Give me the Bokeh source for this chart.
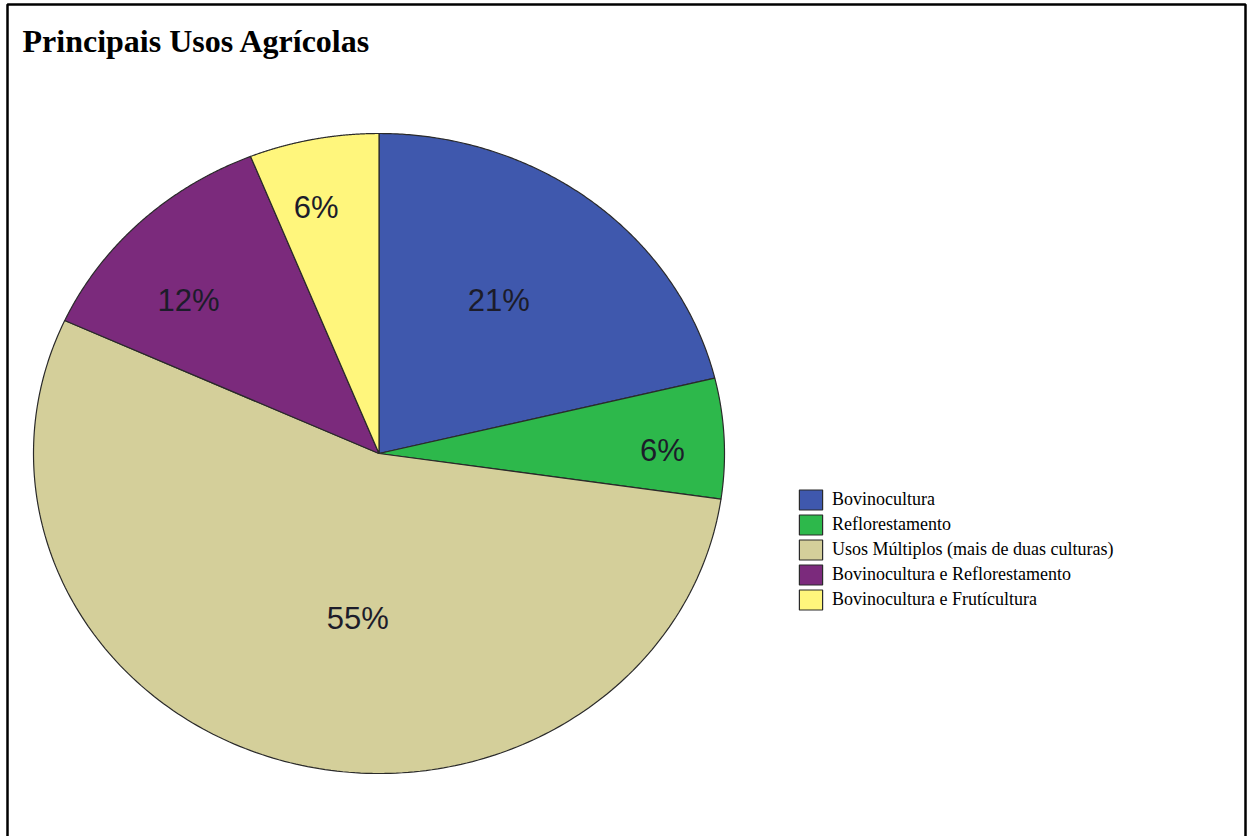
import numpy as np
from bokeh.plotting import figure
from bokeh.models import Range1d, Legend, LegendItem, ColumnDataSource, Label
from bokeh.core.properties import value
from bokeh.embed import file_html
from bokeh.resources import INLINE

# ---- data ----
title = "Principais Usos Agrícolas"
categories = [
    "Bovinocultura",
    "Reflorestamento",
    "Usos Múltiplos (mais de duas culturas)",
    "Bovinocultura e Reflorestamento",
    "Bovinocultura e Frutícultura",
]
counts = [7, 2, 18, 4, 2]

# ---- style ----
colors = ["#3F58AD", "#2DB84B", "#D4CF9A", "#7B2A7C", "#FFF67C"]
label_radius = [0.59, 0.82, 0.52, 0.73, 0.79]
label_angle_shift = [2.2, -2.1, 9.6, 5.4, 2.4]

W, H = 1248, 836
cx, cy = 378.5, H - 453.0
rx, ry = 345.5, 320.0

p = figure(width=W, height=H, x_range=Range1d(0, W), y_range=Range1d(0, H),
           output_backend="svg", toolbar_location=None, min_border=0,
           x_axis_location=None, y_axis_location=None)
p.grid.visible = False
p.outline_line_color = None
p.background_fill_color = "white"
p.border_fill_color = "white"

# outer frame (bottom edge lies beyond the visible page)
p.quad(left=[7], right=[1245], bottom=[-30], top=[H - 4],
       fill_color=None, line_color="black", line_width=2.5)

total = float(sum(counts))
fracs = np.array(counts) / total
ends = 90.0 - np.cumsum(fracs) * 360.0
starts = np.concatenate([[90.0], ends[:-1]])

xs, ys, lx, ly, ltxt = [], [], [], [], []
for i, (a0, a1) in enumerate(zip(starts, ends)):
    th = np.radians(np.linspace(a0, a1, 200))
    xs.append(np.concatenate([[cx], cx + rx * np.cos(th)]))
    ys.append(np.concatenate([[cy], cy + ry * np.sin(th)]))
    mid = np.radians((a0 + a1) / 2 + label_angle_shift[i])
    lx.append(cx + rx * label_radius[i] * np.cos(mid))
    ly.append(cy + ry * label_radius[i] * np.sin(mid))
    ltxt.append(f"{round(fracs[i] * 100)}%")

src = ColumnDataSource(dict(xs=xs, ys=ys, color=colors, cat=categories))
r = p.patches("xs", "ys", source=src, fill_color="color", line_color="#2a2a2a",
              line_width=1.2)

p.text(x=lx, y=ly, text=ltxt, text_align="center", text_baseline="middle",
       text_font=value("Liberation Sans"), text_font_size="31px",
       text_color="#1c1c2a")

p.add_layout(Label(x=22, y=H - 40, x_units="screen", y_units="screen",
                   text=title, text_font="Liberation Serif", text_font_style="bold",
                   text_font_size="32px", text_color="black",
                   text_baseline="alphabetic"))

legend = Legend(items=[LegendItem(label=c, renderers=[r], index=i)
                       for i, c in enumerate(categories)],
                location=(796, 224), padding=0, margin=0, spacing=0,
                glyph_width=29, glyph_height=25, label_height=25,
                label_standoff=7, label_text_font="Liberation Serif",
                label_text_font_size="18px", label_text_color="black",
                border_line_color=None, background_fill_alpha=0)
p.add_layout(legend, "center")

open("out.html", "w").write(file_html(p, INLINE))
